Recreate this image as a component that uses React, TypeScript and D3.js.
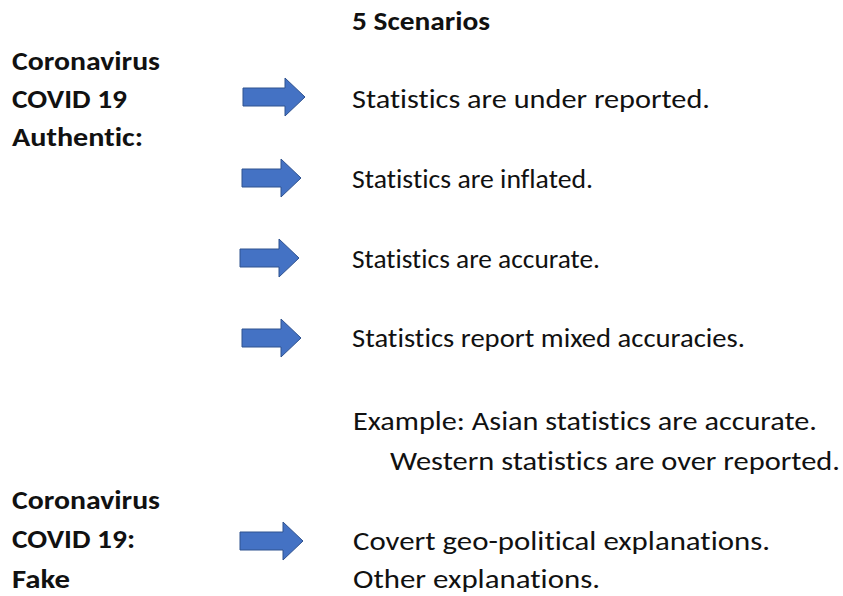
import React from "react";
import * as d3 from "d3";

const title = "5 Scenarios";
const authenticLabel = ["Coronavirus", "COVID 19", "Authentic:"];
const fakeLabel = ["Coronavirus", "COVID 19:", "Fake"];
const scenarios = [
  "Statistics are under reported.",
  "Statistics are inflated.",
  "Statistics are accurate.",
  "Statistics report mixed accuracies.",
];
const exampleLines = [
  "Example: Asian statistics are accurate.",
  "Western statistics are over reported.",
];
const fakeScenarios = ["Covert geo-political explanations.", "Other explanations."];

// layout (pixel positions of the picture)
const W = 843;
const H = 596;
const FONT = "Carlito, Lato, 'Open Sans', sans-serif";
const FS = 26;

type T = { text: string; x: number; y: number; w: number; bold?: boolean };

const texts: T[] = [
  { text: title, x: 352, y: 30, w: 138, bold: true },
  { text: authenticLabel[0], x: 12, y: 70, w: 148, bold: true },
  { text: authenticLabel[1], x: 12, y: 108, w: 115, bold: true },
  { text: authenticLabel[2], x: 12, y: 146, w: 131, bold: true },
  { text: scenarios[0], x: 352, y: 108, w: 358 },
  { text: scenarios[1], x: 352, y: 188, w: 241 },
  { text: scenarios[2], x: 352, y: 268, w: 248 },
  { text: scenarios[3], x: 352, y: 347, w: 393 },
  { text: exampleLines[0], x: 353, y: 430, w: 464 },
  { text: exampleLines[1], x: 390, y: 470, w: 450 },
  { text: fakeLabel[0], x: 12, y: 509, w: 148, bold: true },
  { text: fakeLabel[1], x: 12, y: 548, w: 123, bold: true },
  { text: fakeLabel[2], x: 12, y: 588, w: 58, bold: true },
  { text: fakeScenarios[0], x: 353, y: 550, w: 417 },
  { text: fakeScenarios[1], x: 353, y: 588, w: 247 },
];

const arrows = [
  { cy: 97, x0: 243, x1: 305 },
  { cy: 178, x0: 242, x1: 301 },
  { cy: 258, x0: 240, x1: 299 },
  { cy: 338, x0: 242, x1: 301 },
  { cy: 541, x0: 240, x1: 303 },
];

const lineGen = d3.line<[number, number]>().curve(d3.curveLinearClosed);

function arrowPath(x0: number, x1: number, cy: number) {
  const sh = 9;
  const hh = 19;
  const hl = 20;
  const pts: [number, number][] = [
    [x0, cy - sh],
    [x1 - hl, cy - sh],
    [x1 - hl, cy - hh],
    [x1, cy],
    [x1 - hl, cy + hh],
    [x1 - hl, cy + sh],
    [x0, cy + sh],
  ];
  return lineGen(pts) || "";
}

export default function App() {
  return (
    <svg
      width={W}
      height={H}
      viewBox={`0 0 ${W} ${H}`}
      style={{ position: "absolute", left: 0, top: 0, background: "#fff" }}
    >
      <rect width={W} height={H} fill="#fff" />
      {arrows.map((a, i) => (
        <path
          key={i}
          d={arrowPath(a.x0, a.x1, a.cy)}
          fill="#4472C4"
          stroke="#2F528F"
          strokeWidth={1}
        />
      ))}
      {texts.map((t, i) => (
        <text
          key={i}
          x={t.x}
          y={t.y}
          fontFamily={FONT}
          fontSize={FS}
          fontWeight={t.bold ? 700 : 400}
          fill="#111"
          textLength={t.w}
          lengthAdjust="spacingAndGlyphs"
          style={{ fontVariantLigatures: "none", fontFeatureSettings: "'liga' 0, 'dlig' 0" }}
        >
          {t.text}
        </text>
      ))}
    </svg>
  );
}
